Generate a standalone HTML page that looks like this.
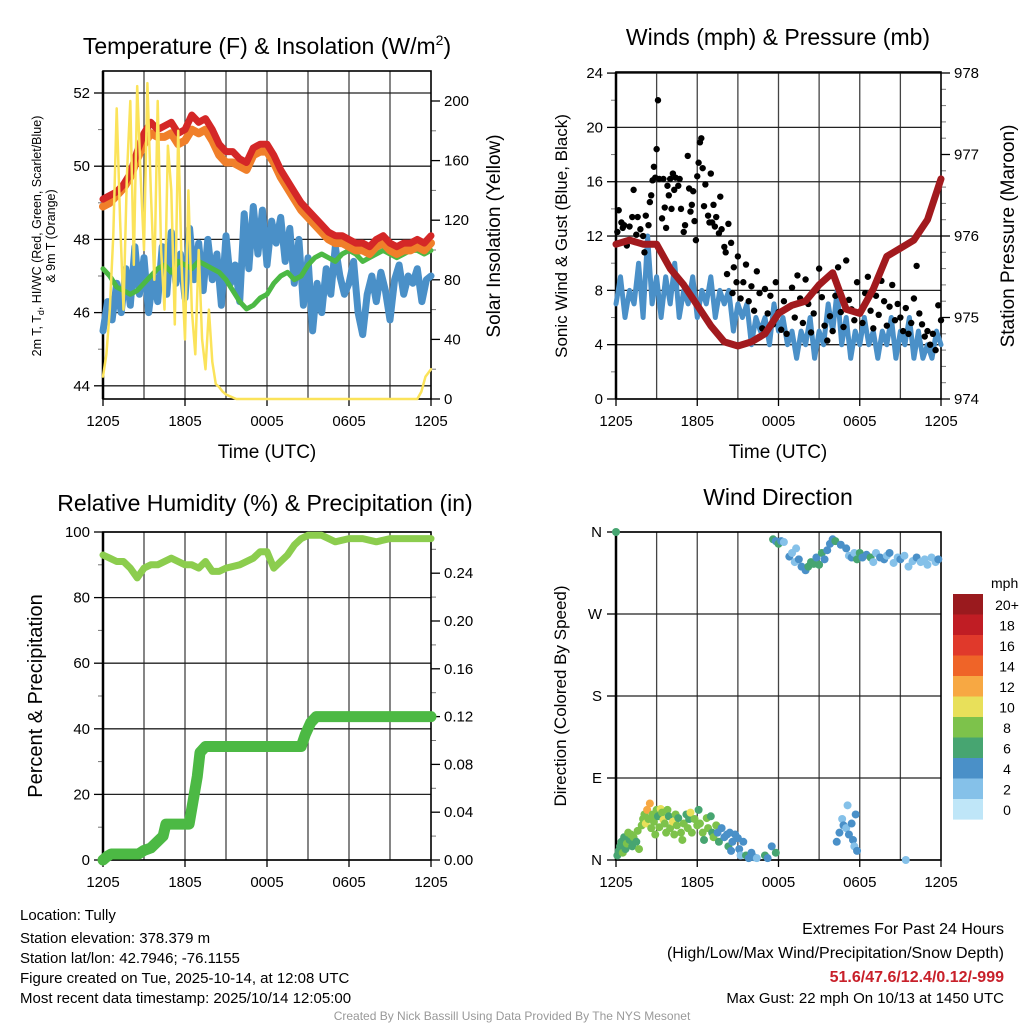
<!DOCTYPE html>
<html><head><meta charset="utf-8"><style>
html,body{margin:0;padding:0;background:#fff;}
svg{display:block;font-family:"Liberation Sans",sans-serif;}
</style></head><body>
<svg id="s" width="1024" height="1024" viewBox="0 0 1024 1024" xmlns="http://www.w3.org/2000/svg">
<rect width="1024" height="1024" fill="#fff"/>
<text x="267" y="54" font-size="23" text-anchor="middle">Temperature (F) &amp; Insolation (W/m<tspan font-size="14" dy="-9">2</tspan><tspan dy="9">)</tspan></text>
<text x="778" y="45" font-size="23" text-anchor="middle">Winds (mph) &amp; Pressure (mb)</text>
<text x="265" y="511" font-size="23" text-anchor="middle">Relative Humidity (%) &amp; Precipitation (in)</text>
<text x="778" y="505" font-size="23" text-anchor="middle">Wind Direction</text>
<text x="267" y="458" font-size="19" text-anchor="middle">Time (UTC)</text>
<text x="778" y="458" font-size="19" text-anchor="middle">Time (UTC)</text>
<text transform="translate(41,236) rotate(-90)" font-size="12.5" text-anchor="middle">2m T, T<tspan font-size="9" dy="3">d</tspan><tspan dy="-3">, HI/WC (Red, Green, Scarlet/Blue)</tspan></text>
<text transform="translate(55,236) rotate(-90)" font-size="12.5" text-anchor="middle">&amp; 9m T (Orange)</text>
<text transform="translate(500,236) rotate(-90)" font-size="19" text-anchor="middle">Solar Insolation (Yellow)</text>
<text transform="translate(567,236) rotate(-90)" font-size="17" text-anchor="middle">Sonic Wind &amp; Gust (Blue, Black)</text>
<text transform="translate(1014,236) rotate(-90)" font-size="19" text-anchor="middle">Station Pressure (Maroon)</text>
<text transform="translate(42,696) rotate(-90)" font-size="20" text-anchor="middle">Percent &amp; Precipitation</text>
<text transform="translate(566,696) rotate(-90)" font-size="17" text-anchor="middle">Direction (Colored By Speed)</text>
<g font-size="15">
<text x="20" y="920">Location: Tully</text>
<text x="20" y="943">Station elevation: 378.379 m</text>
<text x="20" y="963">Station lat/lon: 42.7946; -76.1155</text>
<text x="20" y="983">Figure created on Tue, 2025-10-14, at 12:08 UTC</text>
<text x="20" y="1003">Most recent data timestamp: 2025/10/14 12:05:00</text>
</g>
<g font-size="16" text-anchor="end">
<text x="1004" y="934">Extremes For Past 24 Hours</text>
<text x="1004" y="958">(High/Low/Max Wind/Precipitation/Snow Depth)</text>
<text x="1004" y="982" fill="#c8202a" font-weight="bold">51.6/47.6/12.4/0.12/-999</text>
<text x="1004" y="1003" font-size="15">Max Gust: 22 mph On 10/13 at 1450 UTC</text>
</g>
<text x="512" y="1020" font-size="12" fill="#999" text-anchor="middle">Created By Nick Bassill Using Data Provided By The NYS Mesonet</text>
</svg>
<script>
// ---------- data ----------
const tempRed=[49.1,49.2,49.3,49.5,49.8,50.4,50.9,51.2,51.0,51.1,51.2,50.9,51.0,51.4,51.2,51.3,51.0,50.6,50.4,50.4,50.2,50.1,50.5,50.6,50.6,50.3,49.9,49.6,49.3,49.0,48.8,48.6,48.4,48.2,48.1,48.1,48.0,47.9,47.9,47.8,48.0,48.1,47.9,47.8,47.9,47.9,48.0,47.9,48.1];
const tempOrange=[48.9,49.0,49.2,49.4,49.7,50.2,50.6,50.9,50.8,50.8,50.9,50.6,50.7,51.0,50.9,51.0,50.7,50.3,50.1,50.1,50.0,49.9,50.3,50.4,50.4,50.1,49.7,49.4,49.1,48.8,48.6,48.4,48.2,48.0,47.9,47.9,47.8,47.7,47.7,47.6,47.8,47.9,47.7,47.6,47.7,47.7,47.8,47.7,47.9];
const dewGreen=[47.2,47.0,46.7,46.6,46.5,46.6,46.8,47.0,47.2,47.3,47.1,47.4,47.3,47.2,47.4,47.3,47.2,47.1,46.9,46.6,46.3,46.1,46.2,46.4,46.5,46.8,47.0,47.1,46.9,47.0,47.3,47.5,47.6,47.5,47.4,47.6,47.7,47.6,47.4,47.5,47.6,47.7,47.6,47.5,47.6,47.7,47.7,47.6,47.7];
const windChill=[45.5,46.3,45.8,46.8,46.0,47.2,46.2,47.8,46.5,47.5,46.0,47.0,46.3,47.8,46.5,48.2,46.8,47.6,46.4,48.3,46.9,47.9,46.6,48.0,46.9,47.6,46.2,48.1,46.8,47.3,46.3,48.7,47.2,48.9,47.6,48.8,47.3,48.5,47.9,48.6,47.4,48.3,46.8,48.0,46.2,47.5,45.5,46.8,46.0,47.2,46.5,47.8,47.0,46.5,46.8,47.4,46.0,45.4,46.5,47.0,46.3,47.1,46.6,45.8,46.9,47.3,46.5,47.0,46.8,47.2,46.3,46.9,47.0];
const solarT=[0,0.25,0.5,0.75,1,1.25,1.5,1.75,2,2.25,2.5,2.75,3,3.25,3.5,3.75,4,4.25,4.5,4.75,5,5.25,5.5,5.75,6,6.25,6.5,6.75,7,7.25,7.5,7.75,8,8.25,8.5,8.75,9,9.25,9.5,9.75,10,23,23.3,23.6,24];
const solarV=[15,30,60,110,195,120,60,150,200,90,210,150,100,212,140,80,200,100,60,170,140,50,180,90,40,140,60,30,100,40,20,60,25,10,8,5,3,2,1,0,0,0,5,15,20];
const windSpeed=[7,9,6,8,7,10,6,12,7,9,6,9,7,10,6,8,7,9,6,8,7,9,6,8,7,8,5,7,6,7,4,6,5,6,4,7,5,6,4,5,3,5,4,6,3,5,4,7,5,8,4,6,3,5,4,6,4,5,3,5,4,6,3,5,4,6,3,5,3,4,3,5,4];
const pressure=[975.9,975.95,975.9,975.9,975.6,975.4,975.15,974.9,974.7,974.65,974.7,974.8,975.05,975.15,975.2,975.4,975.55,975.1,975.05,975.35,975.75,975.85,975.95,976.2,976.7];
const gustT=[0.1,0.2,0.4,0.5,0.6,0.8,1.0,1.2,1.3,1.5,1.6,1.8,2.0,2.1,2.2,2.4,2.5,2.6,2.7,2.8,2.9,3.0,3.1,3.2,3.4,3.5,3.6,3.7,3.8,3.9,4.0,4.1,4.2,4.3,4.4,4.6,4.7,4.8,5.0,5.1,5.3,5.4,5.5,5.6,5.7,5.8,5.9,6.0,6.1,6.2,6.3,6.4,6.5,6.6,6.8,6.9,7.0,7.1,7.2,7.3,7.4,7.6,7.7,7.8,8.0,8.1,8.2,8.3,8.5,8.6,8.7,8.9,9.0,9.2,9.4,9.6,9.8,10.0,10.2,10.4,10.6,10.8,11.0,11.2,11.4,11.6,11.8,12.0,12.2,12.4,12.6,12.8,13.0,13.2,13.4,13.6,13.8,14.0,14.2,14.4,14.6,14.8,15.0,15.2,15.4,15.6,15.8,16.0,16.2,16.4,16.6,16.8,17.0,17.2,17.4,17.6,17.8,18.0,18.2,18.4,18.6,18.8,19.0,19.2,19.4,19.6,19.8,20.0,20.2,20.4,20.6,20.8,21.0,21.2,21.4,21.6,21.8,22.0,22.2,22.4,22.6,22.8,23.0,23.2,23.4,23.6,23.8,24.0];
const gustV=[12.3,13.9,13,12.6,12.8,11.3,12.7,13.4,15.4,12.1,13.4,12.5,12.0,10.8,13.5,12.8,14.5,15.0,16.1,17.1,16.3,18.4,22.0,16.2,13.3,16.2,14.1,12.6,15.7,15.0,16.2,14.0,16.6,15.4,16.3,15.7,16.2,14.0,12.3,12.8,17.9,15.5,13.8,14.3,15.3,13.1,11.7,16.4,17.4,18.9,19.2,17.0,14.2,15.8,13.5,13.0,16.6,13.0,14.3,12.7,13.4,12.2,14.9,12.5,11.2,10.8,9.2,12.9,11.5,7.8,9.7,8.6,10.5,7.4,8.6,9.9,7.2,8.3,6.5,9.4,7.8,5.2,8.1,6.3,7.6,5.5,8.6,6.4,5.1,7.2,4.8,6.8,8.2,6.0,9.1,7.4,5.6,8.8,7.0,4.9,6.3,8.0,9.6,7.5,5.4,4.3,6.1,5.0,7.6,9.7,6.4,5.3,10.2,7.3,6.6,5.8,8.6,6.4,5.6,7.8,9.0,6.5,5.2,7.6,6.2,8.7,7.2,5.4,6.8,8.4,5.8,7.0,6.0,5.0,6.7,4.8,5.6,7.4,9.8,6.3,5.5,4.6,5.0,4.0,4.8,3.6,6.9,5.8];
const rhT=[0,0.5,1,1.5,2,2.5,3,3.5,4,5,6,6.5,7,7.5,8,8.5,9,10,11,11.5,12,12.5,13,13.5,14,14.5,15,16,17,18,19,20,21,22,23,24];
const rhV=[93,92,91,91,89,86,89,90,90,92,90,90,89,91,88,88,89,90,92,94,94,89,91,93,96,98,99,99,97,98,98,97,98,98,98,98];
const precipT=[0,0.3,0.6,2.6,3.0,3.5,4.4,4.6,6.3,6.6,6.9,7.1,7.5,14.5,14.8,15.2,15.6,24];
const precipV=[0,0.003,0.005,0.005,0.008,0.01,0.02,0.03,0.03,0.05,0.07,0.09,0.095,0.095,0.105,0.115,0.12,0.12];
const dirT=[0.0,0.1,0.2,0.3,0.4,0.5,0.6,0.7,0.8,0.9,1.0,1.1,1.2,1.3,1.5,1.6,1.7,1.9,2.0,2.1,2.2,2.3,2.4,2.5,2.6,2.7,2.8,2.9,3.0,3.1,3.2,3.3,3.4,3.5,3.6,3.7,3.8,3.9,4.0,4.2,4.3,4.4,4.5,4.6,4.8,4.9,5.0,5.2,5.3,5.4,5.5,5.6,5.8,6.0,6.1,6.2,6.4,6.5,6.7,6.8,7.0,7.1,7.2,7.4,7.5,7.6,7.8,8.0,8.2,8.3,8.4,8.5,8.6,8.8,9.0,9.1,9.2,9.4,9.6,9.8,10.0,10.2,10.4,11.0,11.2,11.5,11.8,11.6,11.8,12.0,12.2,12.4,12.8,13.0,13.2,13.3,13.5,13.7,14.0,14.2,14.4,14.6,14.8,15.0,15.2,15.4,15.6,15.8,16.0,16.2,16.6,17.0,17.2,17.4,17.6,17.8,18.0,18.2,18.5,18.8,19.0,19.2,19.5,19.8,20.0,20.2,20.5,20.8,21.0,21.3,21.6,21.9,22.2,22.5,22.8,23.0,23.3,23.6,23.8,16.3,16.5,16.7,16.8,17.0,17.1,17.2,17.4,17.5,17.6,17.7,17.8,21.4];
const dirD=[360,5,10,15,20,8,25,12,18,30,22,28,15,25,20,32,12,38,45,50,40,55,45,62,35,50,42,28,55,48,36,56,52,44,40,30,55,48,35,42,28,50,38,46,30,22,40,50,35,45,52,30,45,38,55,40,30,22,46,35,48,30,25,38,30,20,35,25,28,15,30,10,20,28,24,12,5,20,5,2,8,3,2,5,2,15,8,352,350,347,350,349,333,337,327,342,330,322,318,322,327,325,332,324,337,330,340,347,352,350,346,342,334,332,337,330,337,332,335,332,327,337,332,330,334,337,326,332,330,334,322,328,332,327,330,324,332,327,330,20,30,45,38,35,60,28,40,22,15,50,10,0];
const dirS=[7,6,7,6,7,8,7,6,8,8,7,8,6,8,7,8,8,8,8,9,10,12,8,12,9,8,8,8,8,7,8,10,8,10,8,8,8,7,9,10,8,8,8,7,8,8,8,7,8,7,10,8,8,8,7,8,8,7,8,8,7,6,8,8,5,6,4,5,4,6,4,4,5,4,4,4,3,4,6,4,4,5,3,6,4,4,6,6,5,6,4,3,4,3,3,3,4,4,4,6,6,7,5,6,6,4,5,4,4,6,5,4,3,5,3,6,6,4,4,6,3,3,4,5,3,4,3,3,4,3,2,3,4,3,2,3,3,2,4,4,4,3,4,3,3,4,5,4,3,4,4,2];
const speedBins=["0","2","4","6","8","10","12","14","16","18","20+"];
const binColors=["#bfe6f8","#85c1e9","#4a90c8","#47a571","#7dc24b","#e8e05a","#f7a843","#ef6428","#e0392b","#c01d24","#9a1a1e"];
const xLabels=["1205","1805","0005","0605","1205"];

// ---------- helpers ----------
const NS="http://www.w3.org/2000/svg";
const svg=document.getElementById('s');
function mk(tag,attrs,parent){const e=document.createElementNS(NS,tag);for(const k in attrs)e.setAttribute(k,attrs[k]);(parent||svg).appendChild(e);return e;}
function poly(pts){return pts.map(p=>p[0].toFixed(1)+','+p[1].toFixed(1)).join(' ');}

function frame(p,name){
  const g=mk('g',{});
  
  
  for(let h=3;h<24;h+=3){const l=mk('line',{x1:p.x(h),x2:p.x(h),y1:p.top,y2:p.bot,stroke:'#444','stroke-width':1.3},g);
    }
  xLabels.forEach((lb,i)=>{const h=i*6;
    mk('line',{x1:p.x(h),x2:p.x(h),y1:p.bot,y2:p.bot+7,stroke:'#000','stroke-width':1.3},g);
    const t=mk('text',{x:p.x(h),y:p.bot+27,'font-size':15,'text-anchor':'middle'},g);t.textContent=lb;
    });
  return g;
}
function yAxis(p,g,side,scale,major,minor,fmt,grid){
  const x=side==='L'?p.left:p.right, d=side==='L'?-1:1;
  major.forEach(v=>{const y=scale(v);
    if(grid) mk('line',{x1:p.left,x2:p.right,y1:y,y2:y,stroke:'#222','stroke-width':1.3},g);
    mk('line',{x1:x,x2:x+d*9,y1:y,y2:y,stroke:'#000','stroke-width':1.3},g);
    const t=mk('text',{x:x+d*13,y:y+5,'font-size':15,'text-anchor':side==='L'?'end':'start'},g);t.textContent=fmt(v);
    });
  minor.forEach(v=>{const y=scale(v);mk('line',{x1:x,x2:x+d*5,y1:y,y2:y,stroke:'#777','stroke-width':1},g);});
}
function box(p,g){mk('rect',{x:p.left,y:p.top,width:p.right-p.left,height:p.bot-p.top,fill:'none',stroke:'#000','stroke-width':1.6},g);
  mk('line',{x1:p.left,x2:p.left,y1:p.top,y2:p.bot,stroke:'#000','stroke-width':2.5},g);}
function line(pts,color,w,name){const e=mk('polyline',{points:poly(pts),fill:'none',stroke:color,'stroke-width':w,'stroke-linejoin':'round','stroke-linecap':'round'});
  return e;}
function byIndex(arr,p,ys){return arr.map((v,i)=>[p.x(i*24/(arr.length-1)),ys(v)]);}
function range(a,b,s){const r=[];for(let v=a;v<=b+1e-9;v+=s)r.push(+v.toFixed(4));return r;}

// ---------- Panel 1 ----------
const P1={left:103,right:431,top:71,bot:399};P1.x=h=>P1.left+h*(P1.right-P1.left)/24;
const y1L=v=>93+(52-v)*36.6, y1R=v=>399-v*1.49;
let g=frame(P1,'temperature');
yAxis(P1,g,'L',y1L,[44,46,48,50,52],[45,47,49,51],v=>v,true);
yAxis(P1,g,'R',y1R,[0,40,80,120,160,200],[20,60,100,140,180],v=>v,false);
line(byIndex(windChill,P1,y1L),'#4a90c8',7,'wind-chill-line');
line(byIndex(dewGreen,P1,y1L),'#4cb944',5,'dewpoint-line');
line(byIndex(tempOrange,P1,y1L),'#f07f2a',8,'9m-temperature-line');
line(byIndex(tempRed,P1,y1L),'#d42727',7,'2m-temperature-line');
line(solarT.map((t,i)=>[P1.x(t),y1R(solarV[i])]),'#fbe35a',2.5,'solar-insolation-line');
box(P1,g);

// ---------- Panel 2 ----------
const P2={left:616,right:941,top:72,bot:399};P2.x=h=>P2.left+h*(P2.right-P2.left)/24;
const y2L=v=>399-v*13.58, y2R=v=>399-(v-974)*81.5;
g=frame(P2,'winds');
yAxis(P2,g,'L',y2L,[0,4,8,12,16,20,24],[2,6,10,14,18,22],v=>v,true);
yAxis(P2,g,'R',y2R,[974,975,976,977,978],range(974.2,977.8,0.2).filter(v=>Math.abs(v-Math.round(v))>0.01),v=>v,false);
line(byIndex(windSpeed,P2,y2L),'#4a90c8',5,'sonic-wind-line');
gustT.forEach((t,i)=>{const c=mk('circle',{cx:P2.x(t),cy:y2L(gustV[i]),r:3.2,fill:'#000'});
  
  });
line(byIndex(pressure,P2,y2R),'#a21a1e',7,'pressure-line');
box(P2,g);

// ---------- Panel 3 ----------
const P3={left:103,right:431,top:532,bot:860};P3.x=h=>P3.left+h*(P3.right-P3.left)/24;
const y3L=v=>860-v*3.28, y3R=v=>860-v*1195;
g=frame(P3,'humidity');
yAxis(P3,g,'L',y3L,[0,20,40,60,80,100],[10,30,50,70,90],v=>v,true);
yAxis(P3,g,'R',y3R,[0,0.04,0.08,0.12,0.16,0.20,0.24],[0.02,0.06,0.10,0.14,0.18,0.22,0.26],v=>v.toFixed(2),false);
line(rhT.map((t,i)=>[P3.x(t),y3L(rhV[i])]),'#8ccd4e',7,'relative-humidity-line');
line(precipT.map((t,i)=>[P3.x(t),y3R(precipV[i])]),'#4cb944',11,'precipitation-line');
box(P3,g);

// ---------- Panel 4 ----------
const P4={left:616,right:941,top:532,bot:860};P4.x=h=>P4.left+h*(P4.right-P4.left)/24;
const y4=d=>860-d*(328/360);
g=frame(P4,'wind-direction');
[[0,'N'],[90,'E'],[180,'S'],[270,'W'],[360,'N']].forEach(([d,l])=>{const y=y4(d);
  mk('line',{x1:P4.left,x2:P4.right,y1:y,y2:y,stroke:'#222','stroke-width':1.3},g);
  mk('line',{x1:P4.left-9,x2:P4.left,y1:y,y2:y,stroke:'#000','stroke-width':1.3},g);
  const t=mk('text',{x:P4.left-14,y:y+5,'font-size':15,'text-anchor':'end'},g);t.textContent=l;
  });
dirT.forEach((t,i)=>{const b=Math.min(10,Math.floor(dirS[i]/2));
  const c=mk('circle',{cx:P4.x(t),cy:y4(dirD[i]),r:4,fill:binColors[b]});
  
  });
box(P4,g);
const cb=mk('g',{});


const cbt=mk('text',{x:991,y:588,'font-size':14},cb);cbt.textContent='mph';
speedBins.forEach((lb,i)=>{const k=10-i;const y=594+i*20.5;
  mk('rect',{x:953,y:y,width:30,height:20.6,fill:binColors[k]},cb);
  const t=mk('text',{x:1007,y:y+16,'font-size':14,'text-anchor':'middle'},cb);t.textContent=speedBins[k];
  });
</script>
</body></html>
